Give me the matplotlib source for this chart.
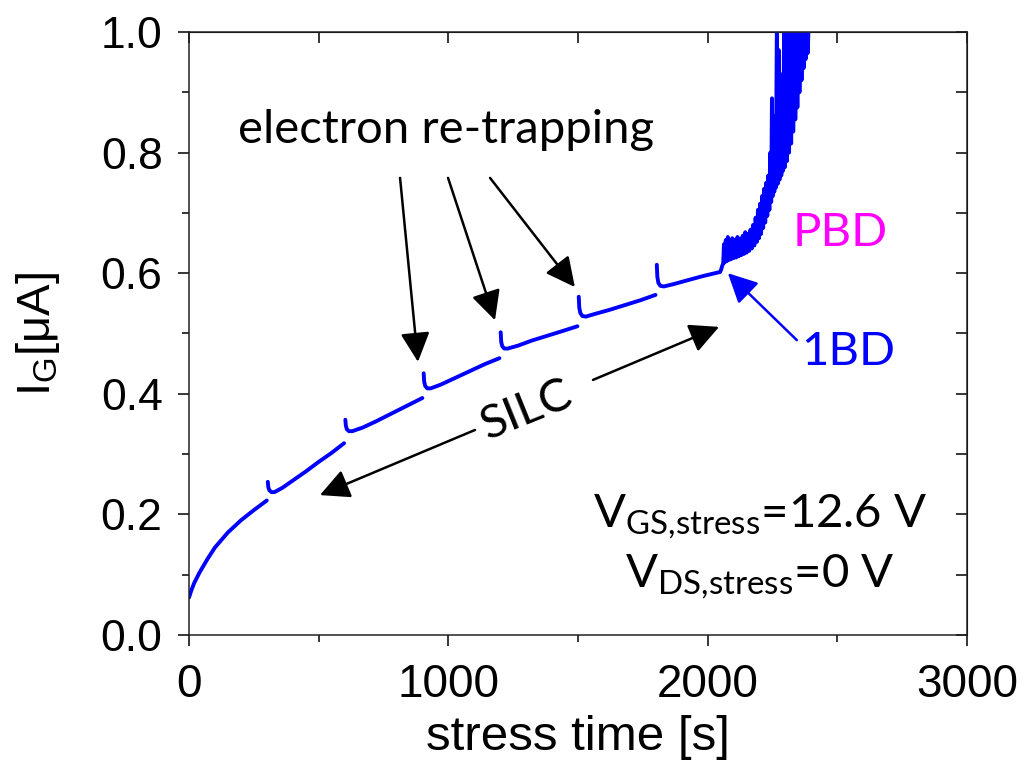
import numpy as np
import matplotlib
matplotlib.use('Agg')
import matplotlib.pyplot as plt

# gate current vs stress time, one list per measurement segment
seg_t=[[0, 10, 20, 40, 70, 100, 150, 200, 250, 300],
       [304, 306, 310, 318, 330, 360, 400, 450, 500, 550, 598],
       [603, 605, 609, 617, 630, 670, 720, 780, 840, 900],
       [905, 907, 911, 919, 932, 970, 1020, 1080, 1140, 1197],
       [1202, 1204, 1208, 1216, 1229, 1270, 1320, 1380, 1440, 1498],
       [1503, 1505, 1509, 1517, 1530, 1570, 1620, 1680, 1740, 1799],
       [1804, 1806, 1810, 1818, 1831, 1870, 1920, 1980, 2048]]
seg_i=[[0.062, 0.075, 0.086, 0.103, 0.125, 0.145, 0.170, 0.190, 0.207, 0.223],
       [0.254, 0.245, 0.240, 0.237, 0.237, 0.244, 0.256, 0.271, 0.287, 0.302, 0.318],
       [0.357, 0.347, 0.341, 0.338, 0.338, 0.344, 0.354, 0.367, 0.380, 0.393],
       [0.434, 0.420, 0.413, 0.409, 0.409, 0.415, 0.425, 0.437, 0.449, 0.459],
       [0.502, 0.486, 0.479, 0.475, 0.475, 0.480, 0.488, 0.496, 0.504, 0.512],
       [0.561, 0.543, 0.534, 0.529, 0.528, 0.533, 0.539, 0.547, 0.555, 0.564],
       [0.614, 0.594, 0.584, 0.579, 0.578, 0.582, 0.588, 0.595, 0.602]]

# noisy part after first breakdown
bd_t=[2048, 2052, 2056, 2060, 2063, 2066, 2070, 2074, 2078, 2082, 2086, 2090, 2095, 2100,
      2105, 2110, 2115, 2120, 2125, 2130, 2135, 2140, 2145, 2150, 2155, 2160, 2165, 2170,
      2175, 2180, 2185, 2190, 2194, 2198, 2202, 2206, 2210, 2214, 2218, 2222, 2226, 2230,
      2234, 2238, 2242, 2245, 2248, 2251, 2254, 2257, 2260, 2263, 2267, 2270, 2274, 2277,
      2281, 2284, 2288, 2291, 2295, 2298, 2302, 2306, 2310, 2314, 2318, 2322, 2326, 2330,
      2334, 2338, 2342, 2346, 2350, 2354, 2358, 2362, 2366, 2370, 2374, 2378, 2382, 2386, 2390]
bd_i=[0.602, 0.606, 0.612, 0.616, 0.648, 0.618, 0.655, 0.620, 0.660, 0.622, 0.652, 0.623,
      0.658, 0.625, 0.655, 0.626, 0.660, 0.628, 0.657, 0.630, 0.662, 0.632, 0.668, 0.634,
      0.665, 0.637, 0.672, 0.641, 0.680, 0.646, 0.692, 0.652, 0.705, 0.658, 0.715, 0.665,
      0.728, 0.675, 0.740, 0.684, 0.750, 0.695, 0.762, 0.705, 0.800, 0.718, 0.890, 0.728,
      0.840, 0.735, 0.860, 0.742, 1.02, 0.748, 0.970, 0.755, 0.925, 0.762, 0.930, 0.770,
      1.02, 0.776, 1.02, 0.786, 1.02, 0.800, 1.02, 0.815, 1.02, 0.835, 1.02, 0.855,
      1.02, 0.875, 1.02, 0.900, 1.02, 0.920, 1.02, 0.940, 1.02, 0.955, 1.02, 0.965, 1.02]

xticks=[0, 1000, 2000, 3000]
yticks=[0.0, 0.2, 0.4, 0.6, 0.8, 1.0]

blue='#0000ff'
afont='Lato'
afs=34

fig=plt.figure(figsize=(10.32,7.6),dpi=100)
ax=fig.add_axes([0.1831,0.1645,0.7539,0.7934])

for t,i in zip(seg_t,seg_i):
  if t[-1]==bd_t[0]:
    t=t+bd_t[1:]
    i=i+bd_i[1:]
  ax.plot(t,i,color=blue,lw=2.8,solid_capstyle='round',solid_joinstyle='round')

ax.set_xlim(0,3000)
ax.set_ylim(0,1.0)
ax.set_xticks(xticks)
ax.set_xticks([500,1500,2500],minor=True)
ax.set_yticks(yticks)
ax.set_yticks([0.1,0.3,0.5,0.7,0.9],minor=True)
ax.set_xticklabels([str(v) for v in xticks],fontfamily='Liberation Sans',fontsize=33)
ax.set_yticklabels(['{:.1f}'.format(v) for v in yticks],fontfamily='Liberation Sans',fontsize=32)
ax.tick_params(which='major',direction='out',length=8,width=1.1)
ax.tick_params(which='minor',direction='out',length=5,width=1.1)
ax.tick_params(axis='x',which='major',pad=12)
ax.tick_params(axis='y',which='major',pad=11)
for s in ax.spines.values():
  s.set_linewidth(1.1)
  s.set_color('#222222')

top=ax.secondary_xaxis('top')
top.set_xticks([0,500,1000,1500,2000,2500,3000])
top.tick_params(direction='in',length=8,width=1.1,labeltop=False)
right=ax.secondary_yaxis('right')
right.set_yticks(np.arange(0,1.01,0.1))
right.tick_params(direction='in',length=8,width=1.1,labelright=False)

ax.set_xlabel('stress time [s]',fontfamily='Liberation Sans',fontsize=35.5,labelpad=6)
ax.set_ylabel(r'I$_\mathregular{G}$[μA]',fontfamily='Liberation Sans',fontsize=34,labelpad=28)

# annotations
ax.text(991,0.816,'electron re-trapping',fontfamily=afont,fontsize=afs,ha='center',va='baseline')
akw=dict(arrowstyle='-|>,head_length=0.6,head_width=0.3',mutation_scale=30,lw=1.8,color='k',shrinkA=0,shrinkB=0)
for tail,tip in [((814,0.758),(883,0.453)),((999,0.758),(1180,0.522)),((1161,0.758),(1488,0.577))]:
  ax.annotate('',xy=tip,xytext=tail,arrowprops=akw)

ax.annotate('',xy=(505,0.232),xytext=(1103,0.340),arrowprops=akw)
ax.annotate('',xy=(2044,0.511),xytext=(1558,0.423),arrowprops=akw)
ax.text(1303,0.373,'SILC',fontfamily=afont,fontsize=afs,ha='center',va='center',rotation=22)

bkw=dict(akw)
bkw['color']=blue
ax.annotate('',xy=(2078,0.600),xytext=(2344,0.489),arrowprops=bkw)
ax.text(2541,0.469,'1BD',fontfamily=afont,fontsize=afs,color=blue,ha='center',va='center')
ax.text(2510,0.667,'PBD',fontfamily=afont,fontsize=afs,color='#ff00ff',ha='center',va='center')

ax.text(2202,0.179,r'V$_\mathregular{GS{,}stress}$=12.6 V',fontfamily=afont,fontsize=afs,ha='center',va='baseline')
ax.text(2202,0.080,r'V$_\mathregular{DS{,}stress}$=0 V',fontfamily=afont,fontsize=afs,ha='center',va='baseline')

fig.savefig('out.png',dpi=100)
